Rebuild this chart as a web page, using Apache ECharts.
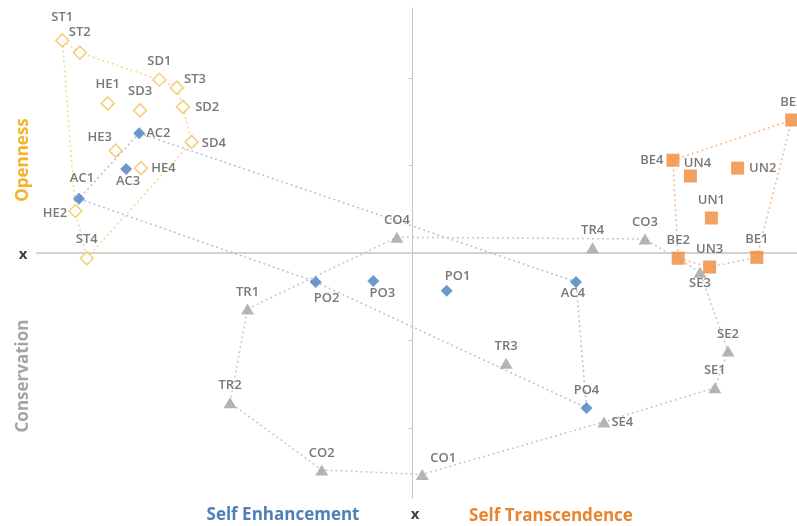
<!DOCTYPE html>
<html>
<head>
<meta charset="utf-8">
<script src="https://cdn.jsdelivr.net/npm/echarts@6/dist/echarts.min.js"></script>
<style>
  html, body { margin:0; padding:0; background:#fff; }
  #main { width:797px; height:526px; }
</style>
</head>
<body>
<div id="main"></div>
<script>
// point coordinates, one small list per value group: [name, x, y]
var openness = [
  ['ST1', -4.01, 2.43], ['ST2', -3.81, 2.29], ['SD1', -2.90, 1.98], ['ST3', -2.70, 1.89],
  ['HE1', -3.49, 1.71], ['SD3', -3.12, 1.63], ['SD2', -2.63, 1.67], ['SD4', -2.53, 1.27],
  ['HE3', -3.40, 1.17], ['HE4', -3.11, 0.97], ['HE2', -3.86, 0.48], ['ST4', -3.73, -0.06]
];
var selfEnh = [
  ['AC2', -3.13, 1.37], ['AC3', -3.28, 0.96], ['AC1', -3.82, 0.62], ['PO2', -1.11, -0.33],
  ['PO3', -0.45, -0.32], ['PO1', 0.39, -0.43], ['AC4', 1.87, -0.33], ['PO4', 1.99, -1.77]
];
var conservation = [
  ['CO4', -0.18, 0.18], ['TR4', 2.06, 0.06], ['CO3', 2.66, 0.16], ['SE3', 3.29, -0.22],
  ['TR1', -1.89, -0.64], ['TR3', 1.07, -1.26], ['SE2', 3.61, -1.12], ['SE1', 3.46, -1.54],
  ['TR2', -2.09, -1.71], ['SE4', 2.19, -1.93], ['CO2', -1.04, -2.48], ['CO1', 0.11, -2.53]
];
var selfTrans = [
  ['BE3', 4.34, 1.52], ['BE4', 2.98, 1.06], ['UN4', 3.18, 0.88], ['UN2', 3.72, 0.97],
  ['UN1', 3.42, 0.40], ['BE2', 3.04, -0.06], ['UN3', 3.40, -0.16], ['BE1', 3.94, -0.05]
];

// outline order of each group
var opennessHull = ['ST1','ST2','SD1','ST3','SD2','SD4','ST4','HE2','ST1'];
var selfEnhHull = ['AC2','AC4','PO4','PO2','AC1','AC2'];
var conservationHull = ['CO4','CO3','SE3','SE2','SE1','SE4','CO1','CO2','TR2','TR1','CO4'];
var selfTransHull = ['BE4','BE3','BE1','UN3','BE2','BE4'];

var yTicks = [-2, -1, 1, 2];

// label placement (styles only)
var labelPos = {
  ST1:['top',[0,-4]], ST2:['top',[0,-2]], ST3:['right',[-5,-8]], SD2:['right',[0,0]],
  AC2:['right',[-4,0]], SD4:['right',[-2,1]], HE3:['top',[-16,5]], HE4:['right',[-2,0]],
  AC3:['bottom',[2,-5]], HE2:['left',[4,2]], AC1:['top',[3,-3]],
  BE4:['left',[2,0]], UN4:['top',[7,5]], UN2:['right',[0,0]], SE3:['bottom',[0,-6]],
  AC4:['bottom',[-3,-6]], PO2:['bottom',[11,-1]], PO3:['bottom',[9,-5]], PO1:['top',[11,3]],
  CO1:['top',[21,1]], SE4:['right',[-4,0]]
};

var txt = '#555555';
var font = '"Open Sans", "DejaVu Sans", sans-serif';

function pts(list) {
  return list.map(function (p) {
    var lp = labelPos[p[0]] || ['top', [0, 0]];
    return {
      name: p[0],
      value: [p[1], p[2]],
      label: { position: lp[0], offset: lp[1] }
    };
  });
}
function hull(list, order) {
  var m = {};
  list.forEach(function (p) { m[p[0]] = [p[1], p[2]]; });
  return order.map(function (n) { return m[n]; });
}
function outline(list, order, color) {
  return {
    type: 'line',
    data: hull(list, order),
    symbol: 'none',
    silent: true,
    z: 1,
    lineStyle: { color: color, width: 1.5, type: [2, 3] }
  };
}
function dots(list, symbol, size, style) {
  return {
    type: 'scatter',
    data: pts(list),
    symbol: symbol,
    symbolSize: size,
    z: 3,
    itemStyle: style,
    label: {
      show: true,
      formatter: '{b}',
      distance: 5,
      color: txt,
      fontSize: 13,
      fontWeight: 600,
      fontFamily: font
    }
  };
}

var chart = echarts.init(document.getElementById('main'));
var option = {
  backgroundColor: '#fff',
  animation: false,
  grid: { left: 37, right: 0, top: 8, bottom: 28 },
  xAxis: {
    type: 'value',
    min: -4.3,
    max: 4.4,
    axisLine: { onZero: true, lineStyle: { color: '#d9cfcb', width: 2 } },
    axisTick: { show: false },
    axisLabel: { show: false },
    splitLine: { show: false }
  },
  yAxis: {
    type: 'value',
    min: -2.8,
    max: 2.8,
    axisLine: { onZero: true, lineStyle: { color: '#c9c2be', width: 1 } },
    axisTick: { show: true, length: 4, customValues: yTicks, lineStyle: { color: '#c9c2be' } },
    axisLabel: { show: false },
    splitLine: { show: false }
  },
  graphic: [
    { type: 'text', x: 23, y: 160, rotation: Math.PI / 2,
      style: { text: 'Openness', fill: '#f3b42c', font: 'bold 17px "Open Sans", sans-serif', align: 'center', verticalAlign: 'middle' } },
    { type: 'text', x: 23, y: 376, rotation: Math.PI / 2,
      style: { text: 'Conservation', fill: '#a9a4a0', font: 'bold 17px "Open Sans", sans-serif', align: 'center', verticalAlign: 'middle' } },
    { type: 'text', x: 23, y: 255,
      style: { text: 'x', fill: '#404040', font: 'bold 15px "Open Sans", sans-serif', align: 'center', verticalAlign: 'middle' } },
    { type: 'text', x: 415, y: 515,
      style: { text: 'x', fill: '#404040', font: 'bold 15px "Open Sans", sans-serif', align: 'center', verticalAlign: 'middle' } },
    { type: 'text', x: 283, y: 515,
      style: { text: 'Self Enhancement', fill: '#4f7fb8', font: 'bold 17px "Open Sans", sans-serif', align: 'center', verticalAlign: 'middle' } },
    { type: 'text', x: 551, y: 516,
      style: { text: 'Self Transcendence', fill: '#e8832f', font: 'bold 17px "Open Sans", sans-serif', align: 'center', verticalAlign: 'middle' } }
  ],
  series: [
    outline(openness, opennessHull, '#f6d68f'),
    outline(selfEnh, selfEnhHull, '#aec3dc'),
    outline(conservation, conservationHull, '#cbc6c3'),
    outline(selfTrans, selfTransHull, '#f5b88a'),
    dots(openness, 'diamond', 13, { color: '#fff', borderColor: '#f2c25a', borderWidth: 1.5 }),
    dots(selfEnh, 'diamond', 12, { color: '#4a7ebb' }),
    dots(conservation, 'triangle', [13, 11], { color: '#a6a19d' }),
    dots(selfTrans, 'rect', 13, { color: '#ef8a3a' })
  ]
};
chart.setOption(option);
</script>
</body>
</html>
